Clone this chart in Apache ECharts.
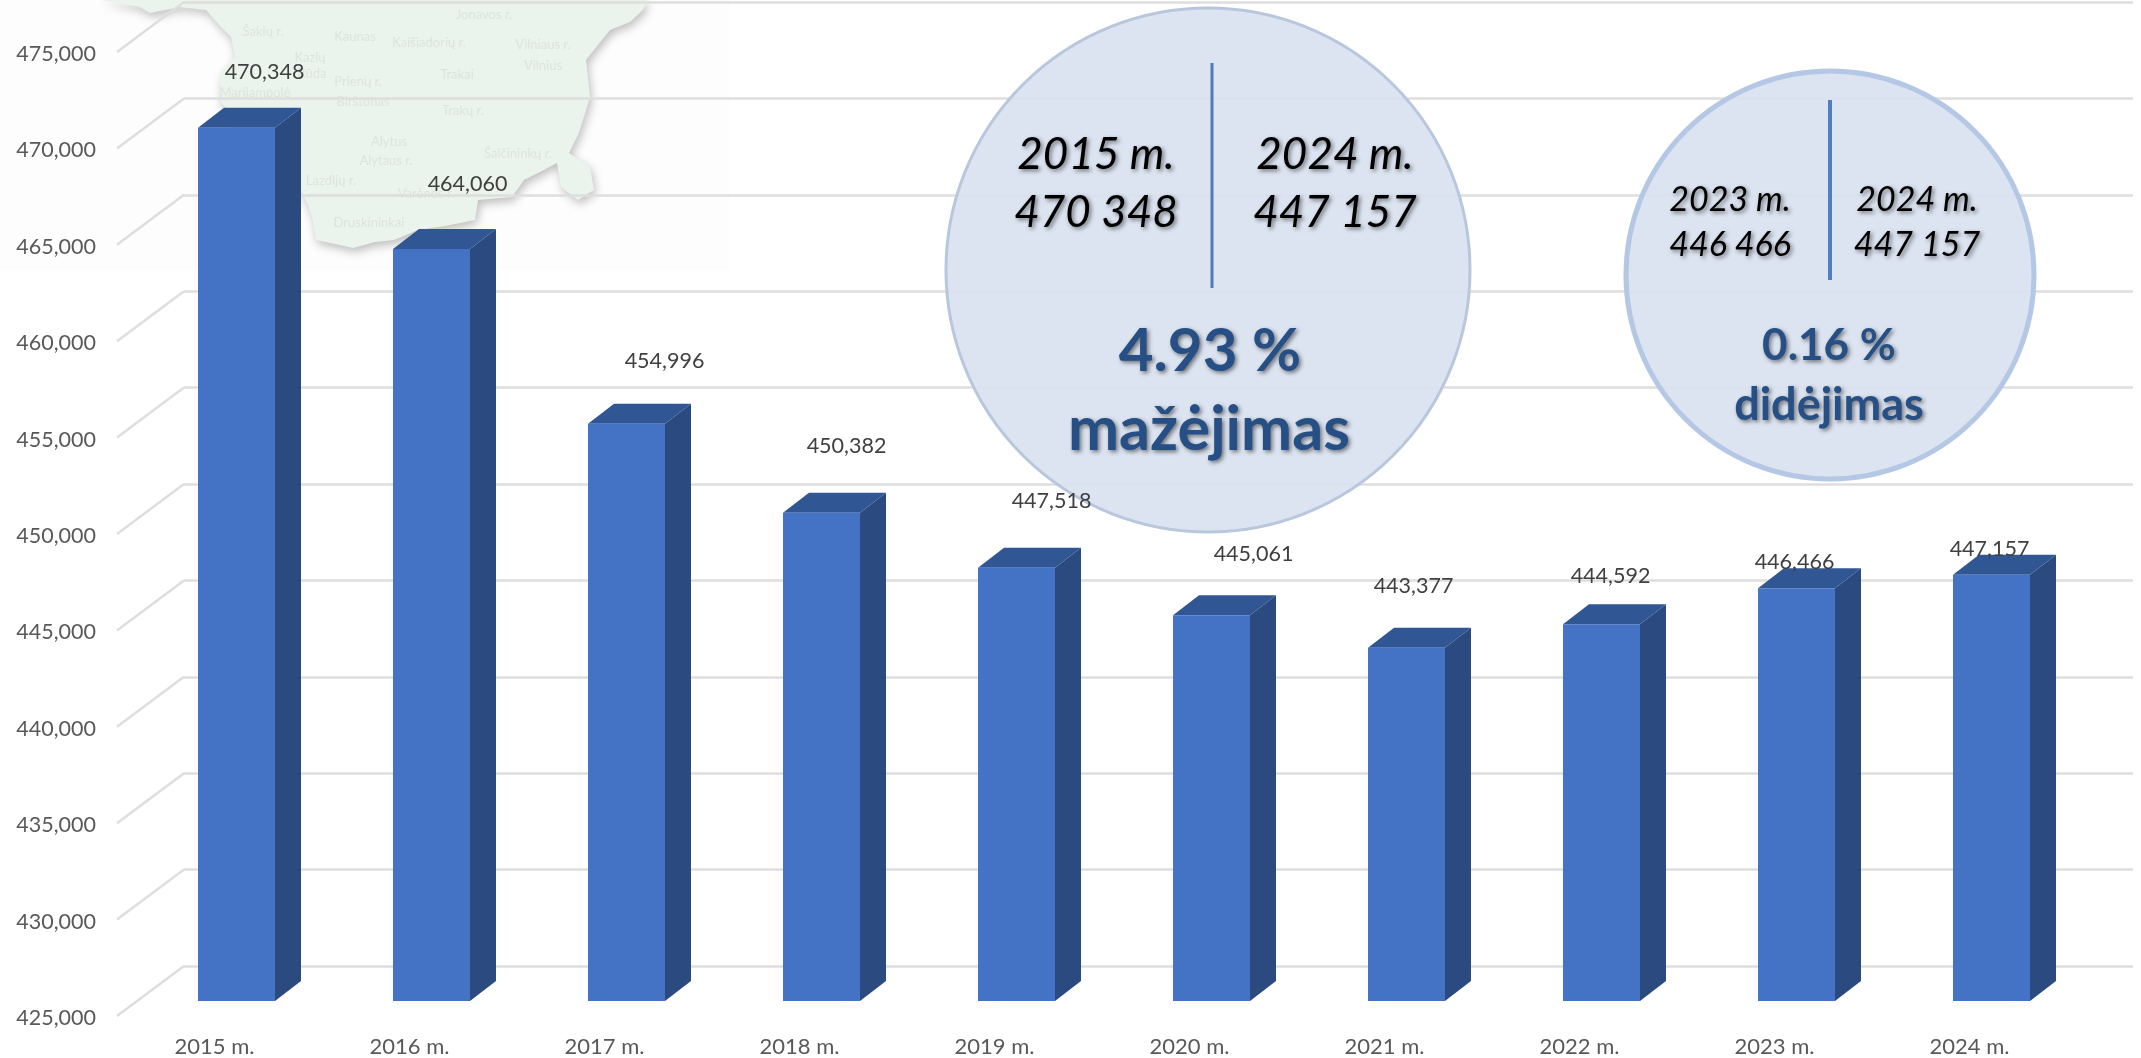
<!DOCTYPE html>
<html>
<head>
<meta charset="utf-8">
<style>html,body{margin:0;padding:0;background:#fff}#c{width:2141px;height:1058px}</style>
<script src="https://cdn.jsdelivr.net/npm/echarts@6/dist/echarts.min.js"></script>
</head>
<body>
<div id="c"></div>
<script>
// ---- data ----
const years = ['2015 m.','2016 m.','2017 m.','2018 m.','2019 m.','2020 m.','2021 m.','2022 m.','2023 m.','2024 m.'];
const residents = [470348,464060,454996,450382,447518,445061,443377,444592,446466,447157];
const yMin = 425000, yMax = 475000, yStep = 5000;
const yTicks = [425000,430000,435000,440000,445000,450000,455000,460000,465000,470000,475000];
const townNames = ['Šakių r.','Kaunas','Kaišiadorių r.','Vilniaus r.','Vilnius','Trakai','Kazlų','Rūda','Prienų r.','Birštonas','Trakų r.','Marijampolė','Alytus','Alytaus r.','Lazdijų r.','Šalčininkų r.','Varėnos r.','Druskininkai','Jonavos r.'];

// ---- layout (hand placed in the original) ----
const townX = [263,355,429,543,543,457,310,312,358,363,463,255,389,386,331,518,426,369,484];
const townY = [32,37,43,45,66,75,58,74,82,102,111,93,142,161,181,154,194,223,15];
const labelDx = [28,36,38,25,35,42,7,9,-2,-2];
const labelDy = [-56,-65,-63,-67,-67,-61,-62,-48,-26,-26];
const BAR_W = 77, BAR_DX = 26, BAR_DY = 20, WALL_DX = 67, WALL_DY = 50, TICK_LIFT = 2;
const FONT = 'Lato';

const fmt = v => Number(v).toLocaleString('en-US');

function renderBar(params, api){
  const i = api.value(0), v = api.value(1);
  const top = api.coord([i, v]), base = api.coord([i, yMin]);
  const l = top[0] - BAR_W/2, r = top[0] + BAR_W/2, t = top[1], b = base[1] - 1;
  return {type:'group', children:[
    {type:'polygon', shape:{points:[[r,t],[r+BAR_DX,t-BAR_DY],[r+BAR_DX,b-BAR_DY],[r,b]]}, style:{fill:'#2a4a80'}},
    {type:'polygon', shape:{points:[[l,t],[l+BAR_DX,t-BAR_DY],[r+BAR_DX,t-BAR_DY],[r,t]]}, style:{fill:'#315694'}},
    {type:'rect', shape:{x:l,y:t,width:BAR_W,height:b-t}, style:{fill:'#4472c4'}},
    {type:'text', z2:20, style:{text:fmt(v), x:top[0]+labelDx[i], y:t+labelDy[i], align:'center', verticalAlign:'middle', font:'21.5px '+FONT, fill:'#404040'}}
  ]};
}
function renderWallSide(params, api){
  const v = api.value(1);
  const x = params.coordSys.x, y = api.coord([0, v])[1] - TICK_LIFT;
  return {type:'line', shape:{x1:x,y1:y,x2:x+WALL_DX,y2:y-WALL_DY}, style:{stroke:'#dedede',lineWidth:2.5}};
}

const shadow = {textShadowColor:'rgba(0,0,0,0.5)', textShadowBlur:4, textShadowOffsetX:2, textShadowOffsetY:2};
const txt = (text,x,y,font,fill) => ({type:'text', z:61, style:Object.assign({text,x,y,align:'center',verticalAlign:'middle',font:font+' '+FONT,fill}, shadow)});

const mapPts = [[100,0],[140,7],[150,13],[180,7],[206,10],[220,26],[231,37],[235,57],[222,72],[220,80],[220,100],[240,130],[285,160],[302,193],[308,205],[312,217],[316,240],[335,244],[353,248],[375,242],[394,240],[418,230],[445,226],[475,220],[478,200],[512,197],[524,180],[540,172],[557,163],[561,187],[578,200],[594,190],[590,167],[569,153],[578,135],[584,117],[590,97],[586,60],[598,45],[610,30],[630,22],[643,10],[647,0]];

const graphics = [
  {type:'rect', z:-20, shape:{x:0,y:0,width:730,height:270}, style:{fill:'#fdfdfd'}},
  {type:'polygon', z:-10, shape:{points:mapPts}, style:{fill:'#ebf4ec', shadowColor:'rgba(0,0,0,0.25)', shadowBlur:10, shadowOffsetX:2, shadowOffsetY:4}},
  ...townNames.map((t,i)=>({type:'text', z:-9, style:{text:t,x:townX[i],y:townY[i],align:'center',verticalAlign:'middle',font:'13px '+FONT,fill:'#dbe4dd'}})),
  {type:'circle', z:1, shape:{cx:1208,cy:270,r:262}, style:{fill:'rgba(217,226,240,0.92)', stroke:'#b8c7dc', lineWidth:3}},
  {type:'circle', z:1, shape:{cx:1830,cy:275,r:204}, style:{fill:'rgba(217,226,240,0.92)', stroke:'#b4c7e4', lineWidth:5}},
  {type:'line', z:61, shape:{x1:1212,y1:63,x2:1212,y2:288}, style:{stroke:'#4f7cb5',lineWidth:3}},
  {type:'line', z:61, shape:{x1:1830,y1:100,x2:1830,y2:280}, style:{stroke:'#4f7fbd',lineWidth:4}},
  txt('2015 m.',1096,155,'italic 44px','#000'),
  txt('470 348',1096,213,'italic 44px','#000'),
  txt('2024 m.',1335,155,'italic 44px','#000'),
  txt('447 157',1335,213,'italic 44px','#000'),
  txt('4.93 %',1210,352,'bold 60px','#264f85'),
  txt('mažėjimas',1209,430,'bold 61px','#264f85'),
  txt('2023 m.',1730,200,'italic 34px','#000'),
  txt('446 466',1730,245,'italic 34px','#000'),
  txt('2024 m.',1917,200,'italic 34px','#000'),
  txt('447 157',1917,245,'italic 34px','#000'),
  txt('0.16 %',1829,346,'bold 44px','#264f85'),
  txt('didėjimas',1829,405,'bold 45px','#264f85')
];

const hiddenCat = {type:'category', data:years, show:false};
const option = {
  animation:false,
  backgroundColor:'#fff',
  graphic:{elements:graphics},
  grid:[
    {left:117, width:1950, top:54, bottom:40},   // front plane: tick labels
    {left:139, width:1950, top:38, bottom:56},   // bars
    {left:184, right:8, top:2, bottom:92}        // back wall: horizontal rules
  ],
  xAxis:[
    {type:'category', gridIndex:0, data:years, axisLine:{show:false}, axisTick:{show:false}, splitLine:{show:false},
     axisLabel:{margin:18, interval:0, color:'#595959', fontFamily:FONT, fontSize:22}},
    Object.assign({gridIndex:1}, hiddenCat),
    Object.assign({gridIndex:2}, hiddenCat)
  ],
  yAxis:[
    {type:'value', gridIndex:0, min:yMin, max:yMax, interval:yStep, axisLine:{show:false}, axisTick:{show:false}, splitLine:{show:false},
     axisLabel:{margin:21, color:'#595959', fontFamily:FONT, fontSize:21.5, formatter:fmt}},
    {type:'value', gridIndex:1, min:yMin, max:yMax, interval:yStep, show:false},
    {type:'value', gridIndex:2, min:yMin, max:yMax, interval:yStep, axisLine:{show:false}, axisTick:{show:false}, axisLabel:{show:false},
     splitLine:{show:true, lineStyle:{color:'#dedede', width:2.5}}}
  ],
  series:[
    {type:'custom', xAxisIndex:0, yAxisIndex:0, clip:false, silent:true, renderItem:renderWallSide,
     data:yTicks.map(v=>[0,v])},
    {type:'custom', xAxisIndex:1, yAxisIndex:1, clip:false, silent:true, renderItem:renderBar,
     data:residents.map((v,i)=>[i,v]), encode:{x:0,y:1}}
  ]
};
echarts.init(document.getElementById('c'),null,{renderer:'canvas'}).setOption(option);
</script>
</body>
</html>
